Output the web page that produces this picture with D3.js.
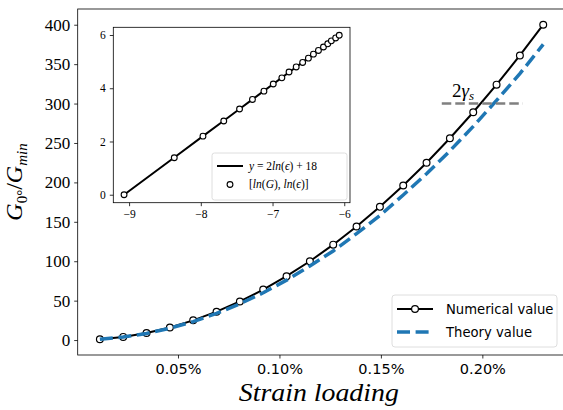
<!DOCTYPE html>
<html>
<head>
<meta charset="utf-8">
<script src="https://cdn.jsdelivr.net/npm/d3@7"></script>
<style>
  body { margin: 0; background: #fff; }
  svg { display: block; }
</style>
</head>
<body>
<div id="chart"></div>
<script>
// strain loading in %
const strain = [0.0115, 0.023, 0.0345, 0.046, 0.0575, 0.069, 0.0805, 0.092, 0.1035, 0.115,
  0.1265, 0.138, 0.1495, 0.161, 0.1725, 0.184, 0.1955, 0.207, 0.2185, 0.23];
const numerical = [1, 4, 9, 16, 25, 36, 49, 64, 81, 100, 121, 144, 169, 196, 225, 256, 289, 324, 361, 400];
const theory = [0.94, 3.8, 8.4, 15, 23.4, 33.8, 46, 60, 76, 94, 113, 135, 158, 184, 211, 240, 271, 304, 338, 375];
const xTicks = [0.05, 0.10, 0.15, 0.20];
const yTicks = [0, 50, 100, 150, 200, 250, 300, 350, 400];
const gammaLine = { x0: 0.18, x1: 0.22, y: 300 };

// inset: ln(eps) vs ln(G)
const lnEps = [-9.07, -8.37, -7.97, -7.68, -7.46, -7.28, -7.12, -6.99, -6.87, -6.77,
  -6.67, -6.58, -6.50, -6.43, -6.36, -6.29, -6.23, -6.18, -6.12, -6.07];
const lnG = [0, 1.39, 2.20, 2.77, 3.22, 3.58, 3.89, 4.16, 4.39, 4.61,
  4.80, 4.97, 5.13, 5.28, 5.42, 5.55, 5.67, 5.78, 5.89, 5.99];
const fitLn = [-0.0, 1.40, 2.20, 2.78, 3.22, 3.58, 3.90, 4.16, 4.40, 4.60,
  4.80, 4.98, 5.14, 5.28, 5.42, 5.56, 5.68, 5.78, 5.90, 6.00];
const insetXTicks = [-9, -8, -7, -6];
const insetYTicks = [0, 2, 4, 6];

const W = 563, H = 410;
const svg = d3.select("#chart").append("svg").attr("width", W).attr("height", H);

const serif = "'Liberation Serif', 'DejaVu Serif', serif";
const sans = "'DejaVu Sans', sans-serif";
const blue = "#1f77b4";

function padded(arr, frac) {
  const [a, b] = d3.extent(arr);
  const p = (b - a) * frac;
  return [a - p, b + p];
}

// ---- main axes
const main = { left: 77.7, right: 565.4, top: 9, bottom: 355 };
const x = d3.scaleLinear().domain(padded(strain, 0.05)).range([main.left, main.right]);
const y = d3.scaleLinear().domain(padded(numerical, 0.05)).range([main.bottom, main.top]);

const gx = svg.append("g")
  .attr("transform", `translate(0,${main.bottom})`)
  .call(d3.axisBottom(x).tickValues(xTicks).tickSize(3.5).tickPadding(5)
    .tickFormat(d => d.toFixed(2) + "%"));
gx.selectAll("text").attr("font-family", sans).attr("font-size", 14.5).attr("fill", "#000");

const gy = svg.append("g")
  .attr("transform", `translate(${main.left},0)`)
  .call(d3.axisLeft(y).tickValues(yTicks).tickSize(3.5).tickPadding(4));
gy.selectAll("text").attr("font-family", serif).attr("font-size", 17).attr("fill", "#000");

[gx, gy].forEach(g => {
  g.select(".domain").remove();
  g.selectAll(".tick line").attr("stroke", "#000").attr("stroke-width", 0.8);
});

// spines
svg.append("rect")
  .attr("x", main.left).attr("y", main.top)
  .attr("width", main.right - main.left).attr("height", main.bottom - main.top)
  .attr("fill", "none").attr("stroke", "#000").attr("stroke-width", 0.8);

const mainData = strain.map((s, i) => ({ s, n: numerical[i], t: theory[i] }));

// numerical line + markers
svg.append("path")
  .datum(mainData)
  .attr("fill", "none").attr("stroke", "#000").attr("stroke-width", 2)
  .attr("d", d3.line().x(d => x(d.s)).y(d => y(d.n)));

svg.selectAll(".num-pt")
  .data(mainData)
  .enter().append("circle")
  .attr("class", "num-pt")
  .attr("cx", d => x(d.s)).attr("cy", d => y(d.n)).attr("r", 3.4)
  .attr("fill", "#fff").attr("stroke", "#000").attr("stroke-width", 1.2);

// theory dashed
svg.append("path")
  .datum(mainData)
  .attr("fill", "none").attr("stroke", blue).attr("stroke-width", 3.5)
  .attr("stroke-dasharray", "13,5.6")
  .attr("d", d3.line().x(d => x(d.s)).y(d => y(d.t)));

// 2 gamma_s marker
svg.append("line")
  .attr("x1", x(gammaLine.x0)).attr("x2", x(gammaLine.x1))
  .attr("y1", y(gammaLine.y)).attr("y2", y(gammaLine.y))
  .attr("stroke", "#808080").attr("stroke-width", 2.5).attr("stroke-dasharray", "9.5,4");

const gLabel = svg.append("text")
  .attr("x", 452).attr("y", 96.5)
  .attr("font-family", serif).attr("font-size", 19);
gLabel.append("tspan").text("2");
gLabel.append("tspan").attr("font-style", "italic").text("γ");
gLabel.append("tspan").attr("font-style", "italic").attr("font-size", 13).attr("dy", 3).text("s");

// axis labels
svg.append("text")
  .attr("x", (main.left + 560) / 2).attr("y", 401)
  .attr("text-anchor", "middle")
  .attr("font-family", serif).attr("font-style", "italic").attr("font-size", 25)
  .attr("textLength", 160).attr("lengthAdjust", "spacingAndGlyphs")
  .text("Strain loading");

const yl = svg.append("text")
  .attr("transform", `translate(22,${(main.top + main.bottom) / 2}) rotate(-90)`)
  .attr("text-anchor", "middle")
  .attr("font-family", serif).attr("font-size", 24);
yl.append("tspan").attr("font-style", "italic").text("G");
yl.append("tspan").attr("font-size", 15).attr("dy", 5).text("0°");
yl.append("tspan").attr("dy", -5).text("/");
yl.append("tspan").attr("font-style", "italic").text("G");
yl.append("tspan").attr("font-style", "italic").attr("font-size", 15).attr("dy", 5).text("min");

// main legend
const lg = svg.append("g");
lg.append("rect")
  .attr("x", 392).attr("y", 295).attr("width", 165).attr("height", 52).attr("rx", 3)
  .attr("fill", "#fff").attr("fill-opacity", 0.8).attr("stroke", "#d6d6d6").attr("stroke-width", 0.8);
lg.append("line").attr("x1", 397).attr("x2", 433).attr("y1", 309).attr("y2", 309)
  .attr("stroke", "#000").attr("stroke-width", 2);
lg.append("circle").attr("cx", 415).attr("cy", 309).attr("r", 3.4)
  .attr("fill", "#fff").attr("stroke", "#000").attr("stroke-width", 1.2);
lg.append("line").attr("x1", 397).attr("x2", 433).attr("y1", 332).attr("y2", 332)
  .attr("stroke", blue).attr("stroke-width", 3.5).attr("stroke-dasharray", "13,5.6");
lg.append("text").attr("x", 446).attr("y", 313.5)
  .attr("font-family", sans).attr("font-size", 13.2).text("Numerical value");
lg.append("text").attr("x", 446).attr("y", 336.5)
  .attr("font-family", sans).attr("font-size", 13.2).text("Theory value");

// ---- inset axes
const ins = { left: 113.3, right: 350, top: 27.3, bottom: 202.7 };
const xi = d3.scaleLinear().domain(padded(lnEps, 0.05)).range([ins.left, ins.right]);
const yi = d3.scaleLinear().domain(padded(lnG, 0.05)).range([ins.bottom, ins.top]);

svg.append("rect")
  .attr("x", ins.left).attr("y", ins.top)
  .attr("width", ins.right - ins.left).attr("height", ins.bottom - ins.top)
  .attr("fill", "#fff");

const gxi = svg.append("g")
  .attr("transform", `translate(0,${ins.bottom})`)
  .call(d3.axisBottom(xi).tickValues(insetXTicks).tickSize(3.5).tickPadding(4)
    .tickFormat(d => "\u2212" + Math.abs(d)));
const gyi = svg.append("g")
  .attr("transform", `translate(${ins.left},0)`)
  .call(d3.axisLeft(yi).tickValues(insetYTicks).tickSize(3.5).tickPadding(4)
    .tickFormat(d3.format("d")));
[gxi, gyi].forEach(g => {
  g.select(".domain").remove();
  g.selectAll(".tick line").attr("stroke", "#000").attr("stroke-width", 0.8);
  g.selectAll("text").attr("font-family", serif).attr("font-size", 11.5).attr("fill", "#000");
});

svg.append("rect")
  .attr("x", ins.left).attr("y", ins.top)
  .attr("width", ins.right - ins.left).attr("height", ins.bottom - ins.top)
  .attr("fill", "none").attr("stroke", "#000").attr("stroke-width", 0.8);

const insetData = lnEps.map((e, i) => ({ e, g: lnG[i], f: fitLn[i] }));

svg.append("path")
  .datum(insetData)
  .attr("fill", "none").attr("stroke", "#000").attr("stroke-width", 2)
  .attr("d", d3.line().x(d => xi(d.e)).y(d => yi(d.f)));

svg.selectAll(".in-pt")
  .data(insetData)
  .enter().append("circle")
  .attr("class", "in-pt")
  .attr("cx", d => xi(d.e)).attr("cy", d => yi(d.g)).attr("r", 2.9)
  .attr("fill", "#fff").attr("stroke", "#000").attr("stroke-width", 1.1);

// inset legend
const il = svg.append("g");
il.append("rect")
  .attr("x", 212).attr("y", 153).attr("width", 135).attr("height", 47).attr("rx", 2.5)
  .attr("fill", "#fff").attr("fill-opacity", 0.8).attr("stroke", "#d6d6d6").attr("stroke-width", 0.8);
il.append("line").attr("x1", 217).attr("x2", 243).attr("y1", 166).attr("y2", 166)
  .attr("stroke", "#000").attr("stroke-width", 2);
il.append("circle").attr("cx", 230).attr("cy", 184.5).attr("r", 2.9)
  .attr("fill", "#fff").attr("stroke", "#000").attr("stroke-width", 1.1);

const t1 = il.append("text").attr("x", 249).attr("y", 169.5)
  .attr("font-family", serif).attr("font-size", 11.5);
t1.append("tspan").attr("font-style", "italic").text("y");
t1.append("tspan").text(" = 2");
t1.append("tspan").attr("font-style", "italic").text("ln");
t1.append("tspan").text("(");
t1.append("tspan").attr("font-style", "italic").text("ϵ");
t1.append("tspan").text(") + 18");

const t2 = il.append("text").attr("x", 249).attr("y", 188)
  .attr("font-family", serif).attr("font-size", 11.5);
t2.append("tspan").text("[");
t2.append("tspan").attr("font-style", "italic").text("ln");
t2.append("tspan").text("(");
t2.append("tspan").attr("font-style", "italic").text("G");
t2.append("tspan").text("), ");
t2.append("tspan").attr("font-style", "italic").text("ln");
t2.append("tspan").text("(");
t2.append("tspan").attr("font-style", "italic").text("ϵ");
t2.append("tspan").text(")]");
</script>
</body>
</html>
